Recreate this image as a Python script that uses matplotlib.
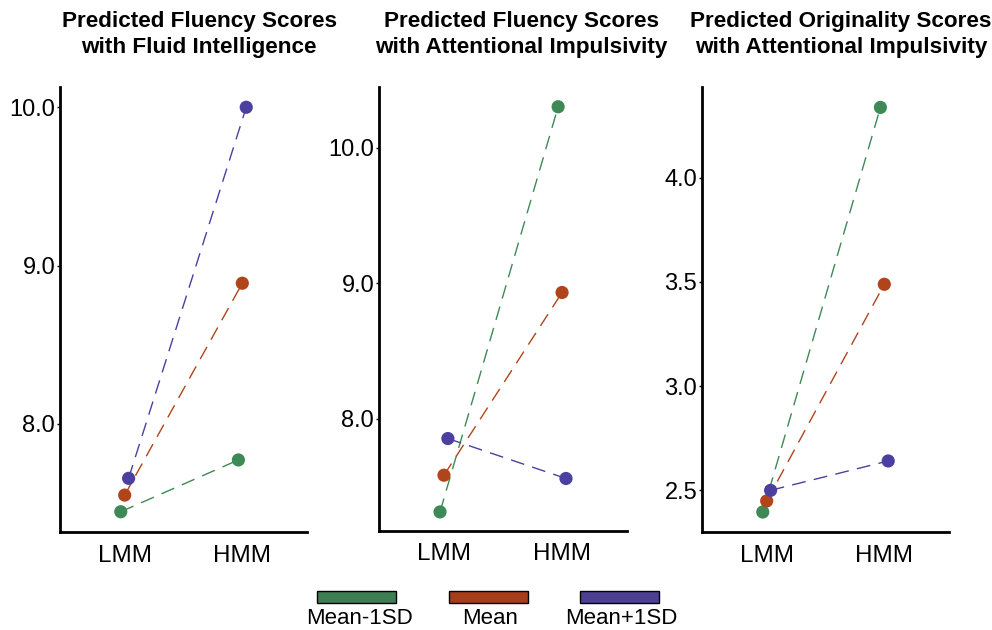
import matplotlib
matplotlib.use("Agg")
import matplotlib.pyplot as plt
from matplotlib.patches import Rectangle
from matplotlib.ticker import FormatStrFormatter

plt.rcParams['font.family'] = ['Liberation Sans', 'DejaVu Sans']

categories = ["LMM", "HMM"]
groups = ["Mean-1SD", "Mean", "Mean+1SD"]
colors = ["#3d8a56", "#b0441a", "#4b3fa0"]
legend_colors = ["#3f7d55", "#a63e1b", "#4d4094"]

titles = [
    ["Predicted Fluency Scores", "with Fluid Intelligence"],
    ["Predicted Fluency Scores", "with Attentional Impulsivity"],
    ["Predicted Originality Scores", "with Attentional Impulsivity"],
]

fluency_fi = {
    "Mean-1SD": [7.446, 7.773],
    "Mean": [7.551, 8.889],
    "Mean+1SD": [7.657, 10.0],
}
fluency_ai = {
    "Mean-1SD": [7.310, 10.303],
    "Mean": [7.581, 8.931],
    "Mean+1SD": [7.852, 7.557],
}
originality_ai = {
    "Mean-1SD": [2.396, 4.338],
    "Mean": [2.449, 3.489],
    "Mean+1SD": [2.500, 2.641],
}
panels = [fluency_fi, fluency_ai, originality_ai]
yticks = [[8.0, 9.0, 10.0], [8.0, 9.0, 10.0], [2.5, 3.0, 3.5, 4.0]]
ylims = [(7.318, 10.128), (7.169, 10.449), (2.30, 4.436)]

W, H = 992, 630
fig = plt.figure(figsize=(W / 100, H / 100), dpi=100)

# axes boxes in pixels: left, right, top, bottom
boxes = [(60, 307, 87, 532), (379, 627, 87, 531), (702, 949, 87, 532)]
title_cx = [199, 521, 841]

dodge = [-0.0333, 0.0, 0.0333]
xpos = [1, 2]

for i, (data, box) in enumerate(zip(panels, boxes)):
    l, r, t, b = box
    ax = fig.add_axes([l / W, 1 - b / H, (r - l) / W, (b - t) / H])
    for g, (grp, c) in enumerate(zip(groups, colors)):
        xs = [x + dodge[g] for x in xpos]
        ys = data[grp]
        ax.plot(xs, ys, color=c, lw=1.0, dashes=(10, 6), zorder=2)
        ax.scatter(xs, ys, s=90, color=c, edgecolors='none', zorder=3)
    ax.set_xlim(0.45, 2.55)
    ax.set_ylim(*ylims[i])
    ax.set_xticks(xpos)
    ax.set_xticklabels(categories)
    ax.set_yticks(yticks[i])
    ax.yaxis.set_major_formatter(FormatStrFormatter('%.1f'))
    for s in ['top', 'right']:
        ax.spines[s].set_visible(False)
    for s in ['left', 'bottom']:
        ax.spines[s].set_linewidth(2.0)
        ax.spines[s].set_color('black')
    ax.tick_params(axis='y', length=2.5, width=1, labelsize=17, pad=1, colors='black')
    ax.tick_params(axis='x', length=0, labelsize=17.5, pad=9, colors='black')
    fig.text(title_cx[i] / W, 1 - 21 / H, titles[i][0], ha='center', va='center',
             fontsize=16.2, fontweight='bold')
    fig.text(title_cx[i] / W, 1 - 48 / H, titles[i][1], ha='center', va='center',
             fontsize=16.2, fontweight='bold')

# legend: boxes above labels
box_cx = [356.5, 488, 619.5]
text_cx = [360, 490, 621]
bw, bh = 79, 12
for cx, tx, c, lab in zip(box_cx, text_cx, legend_colors, groups):
    rect = Rectangle(((cx - bw / 2) / W, 1 - 603 / H), bw / W, bh / H,
                     transform=fig.transFigure, facecolor=c, edgecolor='black',
                     linewidth=1.0)
    fig.patches.append(rect)
    fig.text(tx / W, 1 - 618 / H, lab, ha='center', va='center', fontsize=16)

fig.savefig("out.png", dpi=100)
